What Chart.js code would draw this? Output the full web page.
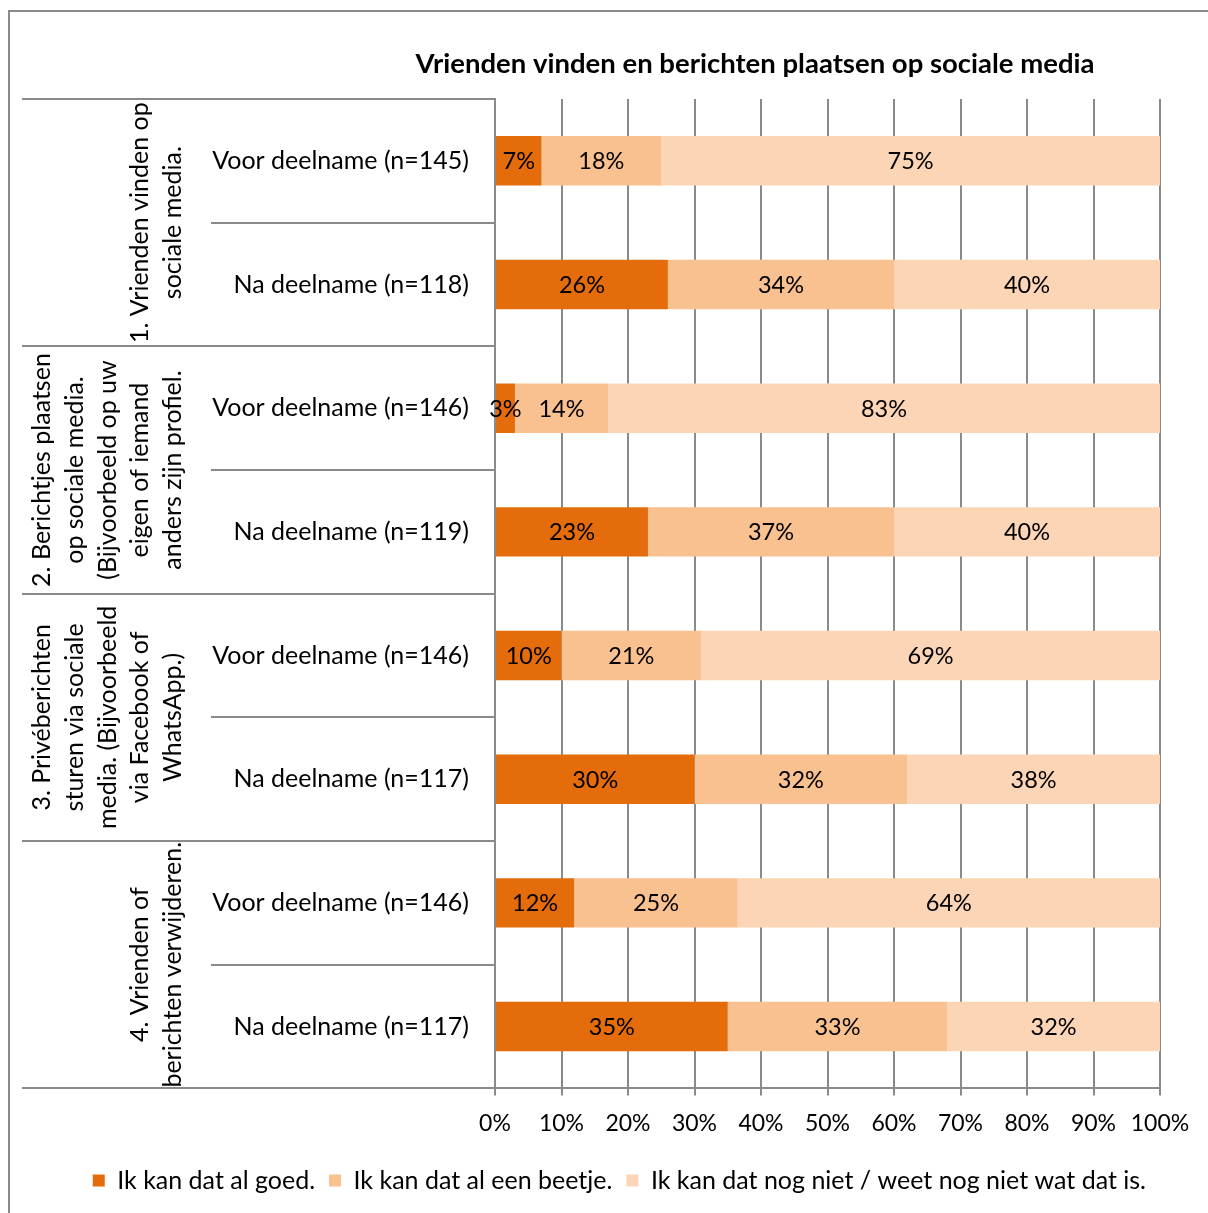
<!DOCTYPE html>
<html lang="nl">
<head>
<meta charset="utf-8">
<title>Vrienden vinden en berichten plaatsen op sociale media</title>
<script src="https://cdn.jsdelivr.net/npm/chart.js@4.4.1/dist/chart.umd.min.js"></script>
<style>
  html, body { margin: 0; padding: 0; background: #fff; }
  #wrap { position: relative; width: 1208px; height: 1213px; }
</style>
</head>
<body>
<div id="wrap"><canvas id="socialChart"></canvas></div>
<script>
// Rijen (voor/na deelname) en de vier vaardigheden
var rowLabels = [
  'Voor deelname (n=145)', 'Na deelname (n=118)',
  'Voor deelname (n=146)', 'Na deelname (n=119)',
  'Voor deelname (n=146)', 'Na deelname (n=117)',
  'Voor deelname (n=146)', 'Na deelname (n=117)'
];
var groupLabels = [
  ['1. Vrienden vinden op', 'sociale media.'],
  ['2. Berichtjes plaatsen', 'op sociale media.', '(Bijvoorbeeld op uw', 'eigen of iemand', 'anders zijn profiel.'],
  ['3. Privéberichten', 'sturen via sociale', 'media. (Bijvoorbeeld', 'via Facebook of', 'WhatsApp.)'],
  ['4. Vrienden of', 'berichten verwijderen.']
];
var seriesNames = [
  'Ik kan dat al goed.',
  'Ik kan dat al een beetje.',
  'Ik kan dat nog niet / weet nog niet wat dat is.'
];
var alGoed   = [7, 26, 3, 23, 10, 30, 11.9, 35];
var beetje   = [18, 34, 14, 37, 21, 32, 24.6, 33];
var nogNiet  = [75, 40, 83, 40, 69, 38, 63.5, 32];
var xTicks   = [0, 10, 20, 30, 40, 50, 60, 70, 80, 90, 100];

var FONT = 'Lato, "Open Sans", sans-serif';
var LINE = '#8a8a8a';

// kader, titel, groepslijnen en percentages in de balken
var decorations = {
  id: 'decorations',
  beforeDraw: function(chart) {
    var ctx = chart.ctx;
    ctx.save();
    ctx.strokeStyle = LINE;
    ctx.lineWidth = 2;
    ctx.strokeRect(9, 11, 1400, 1400);
    ctx.fillStyle = '#000';
    ctx.font = 'bold 27.5px ' + FONT;
    ctx.textAlign = 'center';
    ctx.textBaseline = 'middle';
    ctx.fillText('Vrienden vinden en berichten plaatsen op sociale media', 755, 64);
    ctx.restore();
  },
  afterDatasetsDraw: function(chart) {
    var ctx = chart.ctx;
    ctx.save();
    ctx.fillStyle = '#000';
    ctx.font = '23.5px ' + FONT;
    ctx.textAlign = 'center';
    ctx.textBaseline = 'middle';
    chart.data.datasets.forEach(function(ds, i) {
      chart.getDatasetMeta(i).data.forEach(function(bar, j) {
        var p = bar.getCenterPoint();
        ctx.fillText(Math.round(ds.data[j]) + '%', p.x, p.y + 1);
      });
    });
    ctx.restore();
  },
  afterDraw: function(chart) {
    var ctx = chart.ctx;
    var y = chart.scales.y;
    var area = chart.chartArea;
    var n = rowLabels.length;
    function edge(i) {
      if (i <= 0) return area.top;
      if (i >= n) return area.bottom;
      return (y.getPixelForValue(i - 1) + y.getPixelForValue(i)) / 2;
    }
    ctx.save();
    ctx.strokeStyle = LINE;
    ctx.lineWidth = 2;
    for (var i = 0; i <= n; i++) {
      var yy = Math.round(edge(i));
      ctx.beginPath();
      ctx.moveTo(i % 2 === 0 ? 22 : 211, yy);
      ctx.lineTo(area.left, yy);
      ctx.stroke();
    }
    ctx.fillStyle = '#000';
    ctx.font = '25px ' + FONT;
    ctx.textAlign = 'center';
    ctx.textBaseline = 'middle';
    groupLabels.forEach(function(lines, g) {
      var cy = (edge(g * 2) + edge(g * 2 + 2)) / 2;
      lines.forEach(function(txt, k) {
        var cx = 173 - (lines.length - 1 - k) * 32.7;
        ctx.save();
        ctx.translate(cx, cy);
        ctx.rotate(-Math.PI / 2);
        ctx.fillText(txt, 0, 0);
        ctx.restore();
      });
    });
    ctx.restore();
  }
};

new Chart(document.getElementById('socialChart'), {
  type: 'bar',
  data: {
    labels: rowLabels,
    datasets: [
      { label: seriesNames[0], data: alGoed,  backgroundColor: '#E46C0A' },
      { label: seriesNames[1], data: beetje,  backgroundColor: '#F9C090' },
      { label: seriesNames[2], data: nogNiet, backgroundColor: '#FBD5B5' }
    ]
  },
  options: {
    indexAxis: 'y',
    responsive: true,
    maintainAspectRatio: false,
    animation: false,
    categoryPercentage: 1,
    barPercentage: 0.4,
    layout: { padding: { top: 99, left: 0, right: 48, bottom: 10 } },
    scales: {
      x: {
        stacked: true,
        min: 0,
        max: 100,
        afterBuildTicks: function(scale) {
          scale.ticks = xTicks.map(function(v) { return { value: v }; });
        },
        afterFit: function(scale) { scale.height += 3; },
        grid: { color: LINE, lineWidth: 2, tickLength: 7 },
        border: { color: LINE, width: 2 },
        ticks: {
          color: '#000',
          font: { family: FONT, size: 23 },
          padding: 14,
          maxRotation: 0,
          callback: function(v) { return v + '%'; }
        }
      },
      y: {
        stacked: true,
        afterFit: function(scale) { scale.width = 495; },
        grid: { display: false },
        border: { color: LINE, width: 2 },
        ticks: {
          color: '#000',
          font: { family: FONT, size: 25 },
          padding: 18
        }
      }
    },
    plugins: {
      title: { display: false },
      tooltip: { enabled: false },
      legend: {
        position: 'bottom',
        align: 'end',
        labels: {
          color: '#000',
          font: { family: FONT, size: 25 },
          boxWidth: 12,
          boxHeight: 12,
          padding: 14
        }
      }
    }
  },
  plugins: [decorations]
});
</script>
</body>
</html>
